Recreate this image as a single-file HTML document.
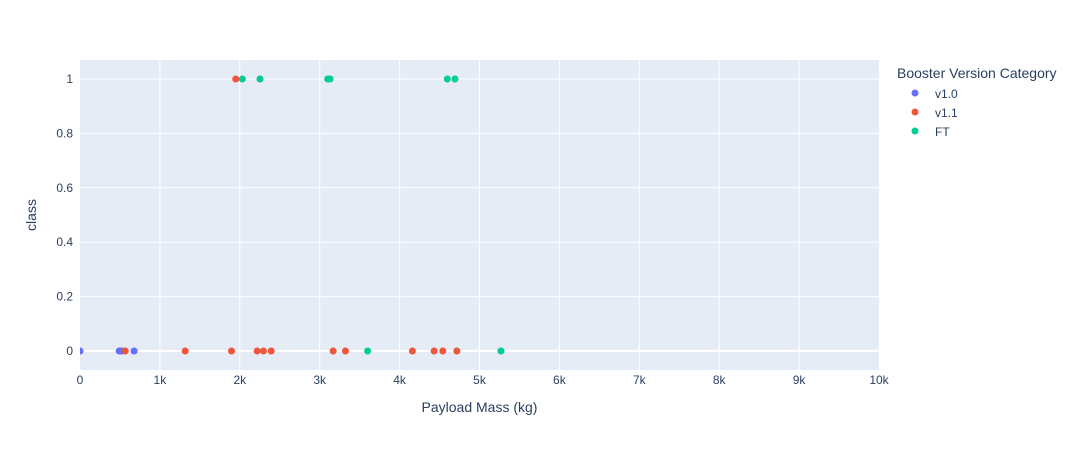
<!DOCTYPE html>
<html><head><meta charset="utf-8"><style>
body{margin:0;background:#fff;font-family:"Liberation Sans",Arial,sans-serif;}
svg text{font-family:"Liberation Sans",Arial,sans-serif;fill:#2a3f5f;}
</style></head><body>
<svg id="chart" width="1091" height="450">
<defs><clipPath id="clip"><rect x="80" y="60" width="799" height="310"/></clipPath></defs>
<rect x="80" y="60" width="799" height="310" fill="#e5ecf6"/>
<g id="grid"></g>
<g id="points" clip-path="url(#clip)"></g>
<g id="ticks"></g>
<text x="479.5" y="412" text-anchor="middle" font-size="14">Payload Mass (kg)</text>
<text transform="translate(36,215) rotate(-90)" text-anchor="middle" font-size="14">class</text>
<g id="legend">
<text x="897" y="78" font-size="14">Booster Version Category</text>
</g>
</svg>
<script>
const series = ["v1.0","v1.1","FT"];
const colors = ["#636efa","#ef553b","#00cc96"];
const v10Payload = [0,491,521,677];
const v10Class = [0,0,0,0];
const v11Payload = [566,1316,1896,2217,2296,2393,3168,3322,4160,4432,4541,4716,1949];
const v11Class = [0,0,0,0,0,0,0,0,0,0,0,0,1];
const ftPayload = [3600,5269,2032,2253,3100,3130,4597,4693];
const ftClass = [0,0,1,1,1,1,1,1];
const xTicks = [0,1000,2000,3000,4000,5000,6000,7000,8000,9000,10000];
const xTickLabels = ["0","1k","2k","3k","4k","5k","6k","7k","8k","9k","10k"];
const yTicks = [0,0.2,0.4,0.6,0.8,1];
const yTickLabels = ["0","0.2","0.4","0.6","0.8","1"];

const NS="http://www.w3.org/2000/svg";
const X=v=>80+v/10000*799;
const Y=v=>60+(1.07-v)/1.14*310;
function mk(tag,attrs,parent){const e=document.createElementNS(NS,tag);for(const k in attrs)e.setAttribute(k,attrs[k]);parent.appendChild(e);return e;}
const grid=document.getElementById('grid'),ticks=document.getElementById('ticks'),pts=document.getElementById('points'),leg=document.getElementById('legend');
xTicks.forEach((t,i)=>{
  if(t>0&&t<10000){const l=mk('line',{x1:X(t),x2:X(t),y1:60,y2:370,stroke:'#fff','stroke-width':1},grid);
  
  }
  const tx=mk('text',{x:X(t),y:384,'text-anchor':'middle','font-size':12},ticks);tx.textContent=xTickLabels[i];
  
  
});
yTicks.forEach((t,i)=>{
  const l=mk('line',{x1:80,x2:879,y1:Y(t),y2:Y(t),stroke:'#fff','stroke-width':t===0?2:1},grid);
  
  
  const tx=mk('text',{x:73,y:Y(t)+4,'text-anchor':'end','font-size':12},ticks);tx.textContent=yTickLabels[i];
  
  
});
const data=[[v10Payload,v10Class],[v11Payload,v11Class],[ftPayload,ftClass]];
data.forEach((d,s)=>{
  d[0].forEach((p,i)=>{
    const c=mk('circle',{cx:X(p),cy:Y(d[1][i]),r:3.5,fill:colors[s]},pts);
    
    
  });
  const y=93+s*19;
  const m=mk('circle',{cx:915,cy:y,r:3.5,fill:colors[s]},leg);
  
  
  const t=mk('text',{x:935,y:y+5,'font-size':12},leg);t.textContent=series[s];
  
  
});
</script>
</body></html>
